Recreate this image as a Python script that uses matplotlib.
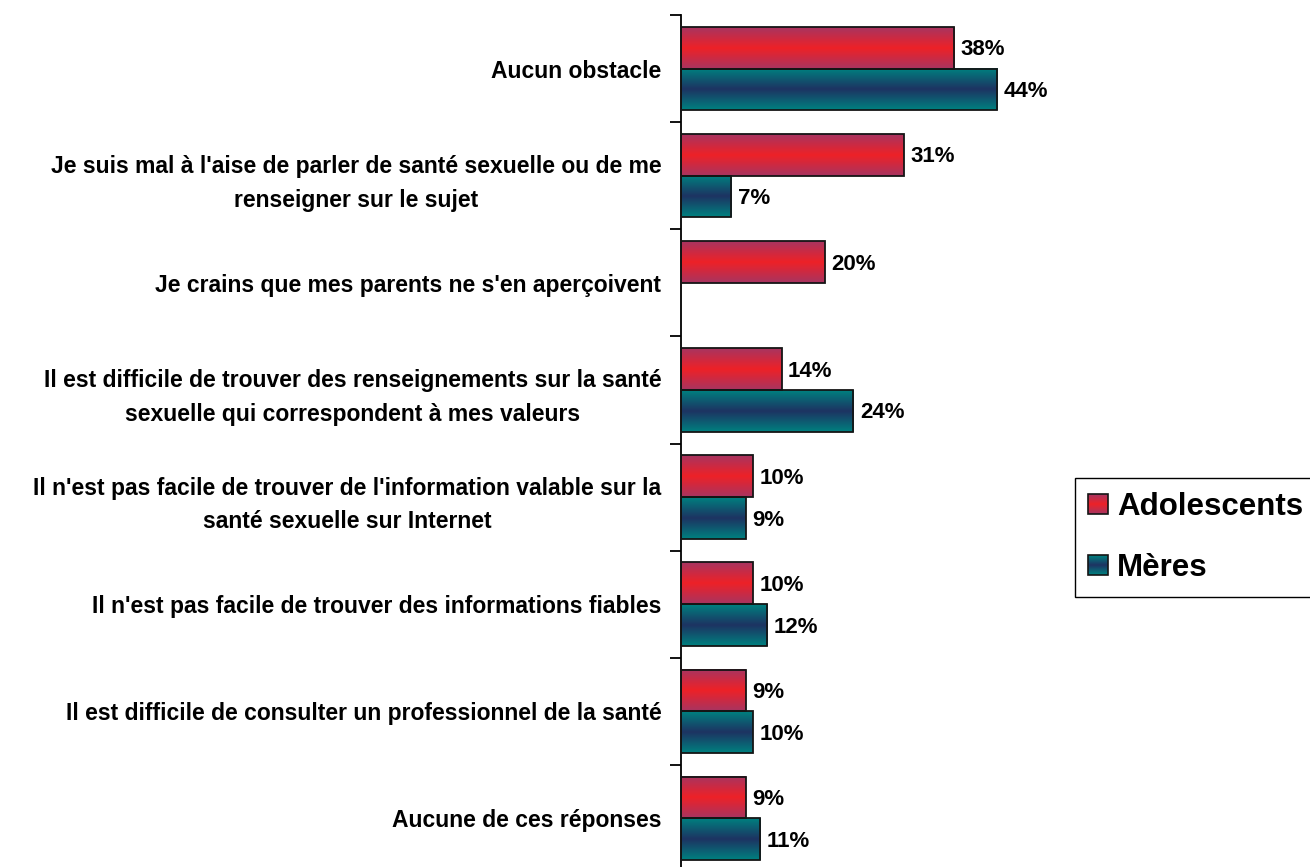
import numpy as np
import matplotlib
matplotlib.use("Agg")
from matplotlib import pyplot as plt
from matplotlib.colors import LinearSegmentedColormap
from matplotlib.patches import Rectangle
from matplotlib.legend_handler import HandlerBase

categories = [
    "Aucun obstacle",
    "Je suis mal à l'aise de parler de santé sexuelle ou de me\nrenseigner sur le sujet",
    "Je crains que mes parents ne s'en aperçoivent",
    "Il est difficile de trouver des renseignements sur la santé\nsexuelle qui correspondent à mes valeurs",
    "Il n'est pas facile de trouver de l'information valable sur la\nsanté sexuelle sur Internet",
    "Il n'est pas facile de trouver des informations fiables",
    "Il est difficile de consulter un professionnel de la santé",
    "Aucune de ces réponses",
]
adolescents = [38, 31, 20, 14, 10, 10, 9, 9]
meres = [44, 7, None, 24, 9, 12, 10, 11]
series_names = ["Adolescents", "Mères"]

red_grad = ["#a83460", "#ee2127", "#a83460"]
teal_grad = ["#00807f", "#1d3362", "#00807f"]

plt.rcParams['font.family'] = ['Liberation Sans', 'DejaVu Sans']
plt.rcParams['font.weight'] = 'bold'

fig = plt.figure(figsize=(13.1, 8.67), dpi=100)
ax = fig.add_axes([0.5198, -0.0058, 0.2962, 0.9885])

h = 0.39
y = np.arange(len(categories))


def grad_bars(ax, ys, vals, cols):
    cmap = LinearSegmentedColormap.from_list("g", cols)
    grad = np.linspace(0, 1, 64).reshape(-1, 1)
    for yy, v in zip(ys, vals):
        if v is None:
            continue
        ax.imshow(grad, cmap=cmap, aspect='auto', interpolation='bilinear',
                  extent=(0, v, yy + h / 2, yy - h / 2), zorder=2)
        ax.add_patch(Rectangle((0, yy - h / 2), v, h, facecolor='none',
                               edgecolor='#151515', lw=1.3, zorder=3))
        ax.text(v + 0.9, yy + 0.02, f"{v}%", va='center', ha='left',
                fontsize=16, fontweight='bold', color='black')


grad_bars(ax, y - h / 2, adolescents, red_grad)
grad_bars(ax, y + h / 2, meres, teal_grad)

ax.set_xlim(0, 54)
ax.set_ylim(len(categories) - 0.5, -0.5)

for s in ['top', 'right', 'bottom']:
    ax.spines[s].set_visible(False)
ax.spines['left'].set_linewidth(1.3)
ax.set_xticks([])
ax.set_yticks(np.arange(len(categories) + 1) - 0.5)
ax.set_yticklabels([])
ax.tick_params(axis='y', which='major', length=8, width=1.3, direction='out')
ax.set_yticks(y, minor=True)
ax.set_yticklabels(categories, minor=True, fontsize=16.5, fontweight='bold',
                   multialignment='center', linespacing=1.6)
ax.tick_params(axis='y', which='minor', length=0, pad=14)


class GradHandler(HandlerBase):
    def __init__(self, cols):
        super().__init__()
        self.cols = cols

    def create_artists(self, legend, orig_handle, xdescent, ydescent,
                       width, height, fontsize, trans):
        cmap = LinearSegmentedColormap.from_list("g", self.cols)
        side = height
        x0 = -xdescent + width - side
        y0 = -ydescent
        arts = []
        n = 20
        for k in range(n):
            arts.append(Rectangle((x0, y0 + side * k / n), side, side / n + 0.3,
                                  facecolor=cmap(k / (n - 1)), edgecolor='none',
                                  transform=trans))
        arts.append(Rectangle((x0, y0), side, side, facecolor='none',
                              edgecolor='#151515', lw=1.2, transform=trans))
        return arts


h1 = Rectangle((0, 0), 1, 1)
h2 = Rectangle((0, 0), 1, 1)
leg = fig.legend([h1, h2], series_names, loc='center left',
                 bbox_to_anchor=(0.8206, 0.380),
                 handler_map={h1: GradHandler(red_grad), h2: GradHandler(teal_grad)},
                 prop={'size': 22.5, 'weight': 'bold'}, fancybox=False,
                 edgecolor='black', framealpha=1, handlelength=0.6,
                 handleheight=0.6, handletextpad=0.3, labelspacing=1.0,
                 borderpad=0.45, borderaxespad=0)
leg.get_frame().set_linewidth(1.0)

fig.savefig("out.png", dpi=100)
